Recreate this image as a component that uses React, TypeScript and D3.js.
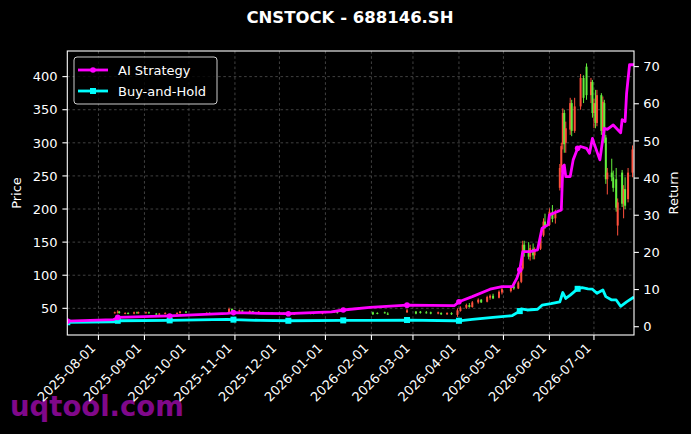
import * as d3 from "d3";

// ── data ───────────────────────────────────────────────────────────────────
const PRICE_TICKS = [50, 100, 150, 200, 250, 300, 350, 400];
const RETURN_TICKS = [0, 10, 20, 30, 40, 50, 60, 70];
const DATE_TICKS = [
  "2025-08-01", "2025-09-01", "2025-10-01", "2025-11-01", "2025-12-01", "2026-01-01",
  "2026-02-01", "2026-03-01", "2026-04-01", "2026-05-01", "2026-06-01", "2026-07-01",
];

// date, open, high, low, close  (red = up, green = down)
const candles: [string, number, number, number, number][] = [
  ["2025-08-12", 43, 45, 42, 44], ["2025-08-14", 44, 47, 42, 45], ["2025-08-15", 45, 46, 42, 43],
  ["2025-08-19", 42, 44, 41, 43], ["2025-08-21", 43, 44, 41, 42], ["2025-08-25", 42, 45, 41, 44],
  ["2025-08-27", 44, 45, 42, 43], ["2025-08-28", 43, 45, 42, 44], ["2025-09-02", 43, 45, 42, 44],
  ["2025-09-04", 44, 45, 42, 43], ["2025-09-09", 42, 43, 40, 41], ["2025-09-11", 41, 43, 40, 42],
  ["2025-09-15", 42, 44, 41, 43], ["2025-09-23", 42, 44, 41, 43], ["2025-09-25", 43, 46, 42, 45],
  ["2025-09-29", 45, 46, 43, 44], ["2025-10-13", 42, 44, 41, 43], ["2025-10-15", 43, 44, 41, 42],
  ["2025-10-17", 42, 43, 40, 41], ["2025-10-28", 44, 51, 43, 49], ["2025-10-30", 49, 50, 45, 46],
  ["2025-11-04", 46, 48, 44, 47], ["2025-11-06", 47, 47, 44, 45], ["2025-11-11", 45, 47, 44, 46],
  ["2025-11-13", 46, 46, 43, 44], ["2025-11-17", 44, 46, 43, 45], ["2025-11-26", 43, 44, 41, 42],
  ["2025-12-01", 42, 44, 41, 43], ["2025-12-04", 43, 44, 41, 42], ["2025-12-09", 42, 43, 40, 41],
  ["2025-12-11", 41, 43, 40, 42], ["2025-12-22", 42, 44, 41, 43], ["2025-12-24", 43, 44, 41, 42],
  ["2025-12-30", 42, 45, 41, 44], ["2026-01-07", 44, 46, 43, 45], ["2026-01-09", 45, 46, 42, 43],
  ["2026-02-02", 44, 45, 40, 41], ["2026-02-05", 43, 44, 41, 42], ["2026-02-10", 44, 45, 42, 43],
  ["2026-02-12", 42, 44, 40, 41], ["2026-02-25", 44, 49, 43, 47], ["2026-03-03", 45, 46, 41, 42],
  ["2026-03-06", 45, 46, 42, 43], ["2026-03-10", 44, 46, 42, 43], ["2026-03-13", 44, 45, 41, 42],
  ["2026-03-18", 42, 45, 41, 44], ["2026-03-20", 43, 44, 40, 41], ["2026-03-24", 41, 44, 40, 43],
  ["2026-03-27", 43, 44, 40, 41], ["2026-03-31", 40, 50, 37, 47],
  ["2026-04-02", 46, 53, 45, 51], ["2026-04-06", 51, 57, 49, 55], ["2026-04-08", 55, 58, 51, 52],
  ["2026-04-10", 52, 61, 51, 59], ["2026-04-14", 59, 65, 57, 63], ["2026-04-16", 63, 64, 58, 59],
  ["2026-04-20", 60, 69, 59, 67], ["2026-04-22", 66, 71, 63, 69], ["2026-04-24", 69, 72, 64, 65],
  ["2026-04-28", 66, 77, 65, 75], ["2026-04-30", 74, 81, 71, 79], ["2026-05-06", 76, 85, 74, 83],
  ["2026-05-08", 83, 86, 78, 80], ["2026-05-11", 80, 91, 79, 89], ["2026-05-13", 90, 112, 88, 108],
  ["2026-05-14", 110, 152, 108, 146], ["2026-05-15", 146, 152, 128, 134], ["2026-05-18", 136, 150, 124, 128],
  ["2026-05-19", 128, 146, 122, 141], ["2026-05-21", 140, 148, 124, 130], ["2026-05-22", 130, 142, 124, 138],
  ["2026-05-26", 140, 160, 138, 156], ["2026-05-28", 160, 186, 158, 181], ["2026-05-29", 181, 193, 170, 175],
  ["2026-06-01", 176, 201, 174, 196], ["2026-06-03", 195, 206, 180, 185], ["2026-06-05", 186, 199, 178, 193],
  ["2026-06-08", 232, 268, 228, 262], ["2026-06-09", 262, 300, 255, 295], ["2026-06-10", 298, 352, 290, 345],
  ["2026-06-11", 345, 350, 285, 298], ["2026-06-12", 300, 332, 285, 322], ["2026-06-15", 320, 368, 312, 360],
  ["2026-06-16", 360, 365, 310, 318], ["2026-06-18", 318, 368, 315, 355], ["2026-06-22", 355, 404, 350, 398],
  ["2026-06-24", 398, 402, 360, 368], ["2026-06-26", 415, 420, 365, 372], ["2026-06-29", 372, 398, 360, 392],
  ["2026-06-30", 392, 395, 338, 345], ["2026-07-01", 345, 366, 322, 360], ["2026-07-02", 360, 380, 322, 330],
  ["2026-07-03", 330, 380, 325, 372], ["2026-07-06", 372, 375, 312, 318], ["2026-07-07", 318, 370, 305, 362],
  ["2026-07-08", 360, 365, 300, 308], ["2026-07-09", 308, 312, 238, 245], ["2026-07-10", 245, 262, 222, 255],
  ["2026-07-13", 255, 276, 242, 248], ["2026-07-14", 248, 258, 226, 232], ["2026-07-16", 245, 262, 196, 202],
  ["2026-07-17", 175, 216, 160, 210], ["2026-07-20", 255, 259, 203, 208], ["2026-07-21", 208, 236, 186, 230],
  ["2026-07-22", 230, 248, 200, 205], ["2026-07-24", 215, 262, 210, 255], ["2026-07-27", 255, 296, 248, 290],
];

const aiStrategy: [string, number][] = [
  ["2025-07-11", 1.5], ["2025-08-11", 1.9], ["2025-08-14", 2.5], ["2025-09-18", 2.9],
  ["2025-10-27", 3.6], ["2025-10-31", 3.8], ["2025-11-18", 3.6], ["2025-12-07", 3.5],
  ["2026-01-05", 4.0], ["2026-01-13", 4.5], ["2026-01-31", 5.2], ["2026-02-25", 5.8],
  ["2026-03-29", 5.7], ["2026-04-01", 6.7], ["2026-04-10", 8.1], ["2026-04-22", 10.1],
  ["2026-04-30", 10.8], ["2026-05-07", 10.8], ["2026-05-10", 13.0], ["2026-05-12", 15.3],
  ["2026-05-14", 20.2], ["2026-05-19", 20.2], ["2026-05-24", 20.7], ["2026-05-27", 26.5],
  ["2026-05-31", 27.4], ["2026-06-01", 30.1], ["2026-06-09", 31.4], ["2026-06-10", 43.1],
  ["2026-06-11", 43.5], ["2026-06-12", 40.4], ["2026-06-15", 40.4], ["2026-06-17", 44.9],
  ["2026-06-20", 48.0], ["2026-06-22", 48.5], ["2026-06-26", 48.0], ["2026-06-28", 46.7],
  ["2026-06-30", 50.7], ["2026-07-01", 49.4], ["2026-07-05", 44.9], ["2026-07-08", 53.4],
  ["2026-07-10", 53.1], ["2026-07-14", 54.3], ["2026-07-19", 52.2], ["2026-07-20", 55.7],
  ["2026-07-22", 55.2], ["2026-07-23", 62.8], ["2026-07-25", 70.5], ["2026-07-28", 70.5],
];

const buyAndHold: [string, number][] = [
  ["2025-07-11", 1.2], ["2025-08-11", 1.3], ["2025-08-14", 1.6], ["2025-09-18", 1.7],
  ["2025-10-27", 2.0], ["2025-10-31", 1.9], ["2025-11-18", 1.7], ["2025-12-07", 1.6],
  ["2026-01-13", 1.7], ["2026-01-31", 1.7], ["2026-02-25", 1.8], ["2026-03-29", 1.6],
  ["2026-04-01", 1.6], ["2026-04-10", 2.0], ["2026-04-24", 2.5], ["2026-05-07", 3.0],
  ["2026-05-12", 4.2], ["2026-05-13", 4.8], ["2026-05-17", 4.5], ["2026-05-24", 4.7],
  ["2026-05-27", 5.8], ["2026-06-02", 6.2], ["2026-06-08", 6.7], ["2026-06-10", 9.2],
  ["2026-06-12", 7.6], ["2026-06-15", 8.5], ["2026-06-20", 10.2], ["2026-06-23", 10.5],
  ["2026-06-27", 10.2], ["2026-06-30", 10.1], ["2026-07-03", 9.0], ["2026-07-07", 9.9],
  ["2026-07-09", 8.1], ["2026-07-13", 7.2], ["2026-07-16", 7.2], ["2026-07-19", 5.5],
  ["2026-07-23", 6.7], ["2026-07-28", 8.0],
];

const markerDates = [
  "2025-07-11", "2025-08-14", "2025-09-18", "2025-10-31", "2025-12-07", "2026-01-13",
  "2026-02-25", "2026-04-01", "2026-05-12", "2026-06-20",
];

const W = 691;
const H = 434;
const M = { left: 67.3, top: 51, right: 634, bottom: 335 };
const FONT = "DejaVu Sans, sans-serif";
const UP = "#ff4f3c";
const DOWN = "#62ee3c";
const AI_COLOR = "#ff00ff";
const BH_COLOR = "#00ffff";

export default function App() {
  const x = d3
    .scaleTime()
    .domain([new Date("2025-07-11"), new Date("2026-07-28")])
    .range([M.left, M.right]);
  const yPrice = d3.scaleLinear().domain([9.7, 438.7]).range([M.bottom, M.top]);
  const yRet = d3.scaleLinear().domain([-2.23, 74.2]).range([M.bottom, M.top]);

  const line = d3
    .line<[string, number]>()
    .x((d) => x(new Date(d[0])))
    .y((d) => yRet(d[1]));

  const marks = (rows: [string, number][]) => rows.filter((r) => markerDates.includes(r[0]));

  return (
    <>
      <style>{`body{margin:0;background:#000}`}</style>
      <svg width={W} height={H} style={{ display: "block", background: "#000" }} fontFamily={FONT}>
        <defs>
          <clipPath id="plot">
            <rect x={M.left} y={M.top} width={M.right - M.left} height={M.bottom - M.top} />
          </clipPath>
        </defs>

        {/* watermark sits under the tick labels */}
        <text x={10} y={416} fontSize={27.5} fontWeight="bold" fill="#80088a">
          uqtool.com
        </text>

        <text x={350} y={23} textAnchor="middle" fontSize={16.5} fontWeight="bold" fill="#fff">
          CNSTOCK - 688146.SH
        </text>

        {/* grid */}
        <g stroke="#5c5c5c" strokeWidth={0.7} strokeDasharray="2.6,2.6">
          {DATE_TICKS.map((t) => (
            <line key={t} x1={x(new Date(t))} x2={x(new Date(t))} y1={M.top} y2={M.bottom} />
          ))}
          {PRICE_TICKS.map((t) => (
            <line key={t} x1={M.left} x2={M.right} y1={yPrice(t)} y2={yPrice(t)} />
          ))}
        </g>

        {/* candles */}
        <g clipPath="url(#plot)">
          {candles.map(([d, o, h, l, c]) => {
            const cx = x(new Date(d));
            const col = c >= o ? UP : DOWN;
            const top = yPrice(Math.max(o, c));
            const bot = yPrice(Math.min(o, c));
            return (
              <g key={d}>
                <line x1={cx} x2={cx} y1={yPrice(h)} y2={yPrice(l)} stroke={col} strokeWidth={1} />
                <rect x={cx - 1} y={top} width={2} height={Math.max(1, bot - top)} fill={col} />
              </g>
            );
          })}
        </g>

        {/* return lines */}
        <g clipPath="url(#plot)" fill="none" strokeWidth={2.8} strokeLinejoin="round">
          <path d={line(buyAndHold) ?? ""} stroke={BH_COLOR} />
          {marks(buyAndHold).map((d) => (
            <rect key={d[0]} x={x(new Date(d[0])) - 3} y={yRet(d[1]) - 3} width={6} height={6} fill={BH_COLOR} stroke="none" />
          ))}
          <path d={line(aiStrategy) ?? ""} stroke={AI_COLOR} />
          {marks(aiStrategy).map((d) => (
            <circle key={d[0]} cx={x(new Date(d[0]))} cy={yRet(d[1])} r={2.8} fill={AI_COLOR} stroke="none" />
          ))}
        </g>

        {/* spines */}
        <rect x={M.left} y={M.top} width={M.right - M.left} height={M.bottom - M.top} fill="none" stroke="#fff" strokeWidth={1.1} />

        {/* left axis */}
        <g fontSize={13} fill="#fff">
          {PRICE_TICKS.map((t) => (
            <g key={t}>
              <line x1={M.left - 4.9} x2={M.left} y1={yPrice(t)} y2={yPrice(t)} stroke="#fff" strokeWidth={1.1} />
              <text x={M.left - 9.7} y={yPrice(t)} dy="0.36em" textAnchor="end">{t}</text>
            </g>
          ))}
          <text transform={`translate(21,${(M.top + M.bottom) / 2}) rotate(-90)`} textAnchor="middle">Price</text>
        </g>

        {/* right axis */}
        <g fontSize={13} fill="#fff">
          {RETURN_TICKS.map((t) => (
            <g key={t}>
              <line x1={M.right} x2={M.right + 4.9} y1={yRet(t)} y2={yRet(t)} stroke="#fff" strokeWidth={1.1} />
              <text x={M.right + 9.2} y={yRet(t)} dy="0.36em">{t}</text>
            </g>
          ))}
          <text transform={`translate(678,${(M.top + M.bottom) / 2}) rotate(-90)`} textAnchor="middle">Return</text>
        </g>

        {/* bottom axis */}
        <g fontSize={13} fill="#fff">
          {DATE_TICKS.map((t) => {
            const tx = x(new Date(t));
            return (
              <g key={t}>
                <line x1={tx} x2={tx} y1={M.bottom} y2={M.bottom + 4.9} stroke="#fff" strokeWidth={1.1} />
                <text transform={`translate(${tx - 2},${M.bottom + 14}) rotate(-45)`} textAnchor="end">{t}</text>
              </g>
            );
          })}
        </g>

        {/* legend */}
        <g fontSize={13}>
          <rect x={74} y={57} width={143} height={47} rx={3} fill="#000" fillOpacity={0.8} stroke="#cccccc" strokeWidth={1} />
          <line x1={78} x2={108} y1={70} y2={70} stroke={AI_COLOR} strokeWidth={2.8} />
          <circle cx={93} cy={70} r={2.8} fill={AI_COLOR} />
          <text x={118} y={70} dy="0.36em" fill="#fff">AI Strategy</text>
          <line x1={78} x2={108} y1={91} y2={91} stroke={BH_COLOR} strokeWidth={2.8} />
          <rect x={90} y={88} width={6} height={6} fill={BH_COLOR} />
          <text x={118} y={91} dy="0.36em" fill="#fff">Buy-and-Hold</text>
        </g>
      </svg>
    </>
  );
}
